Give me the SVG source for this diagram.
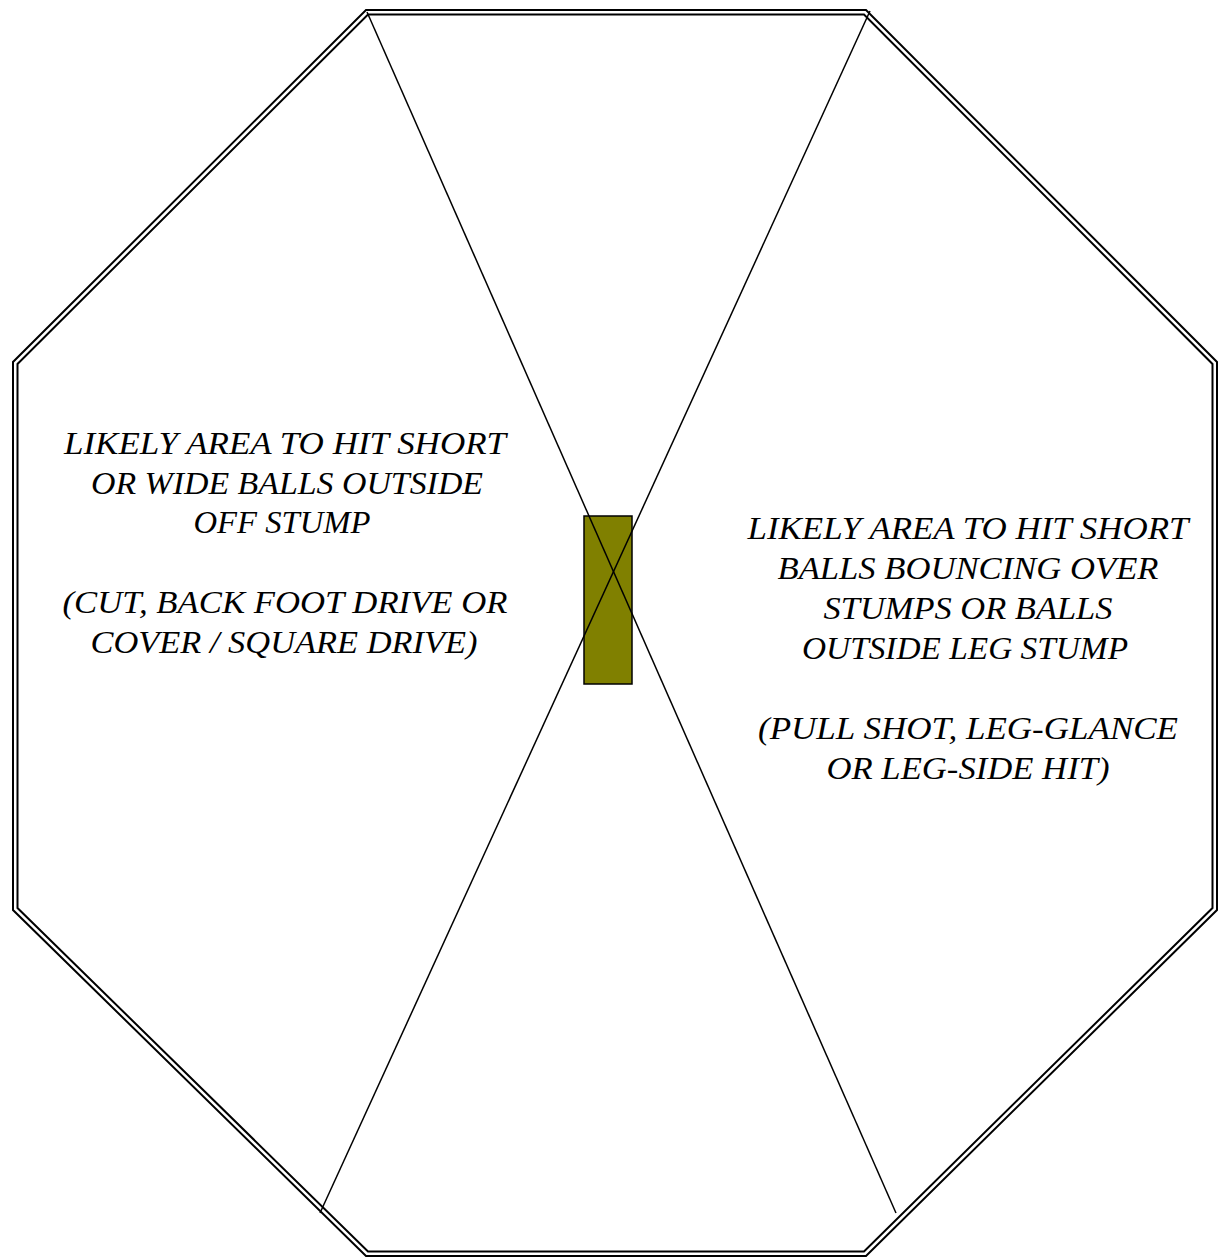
<svg xmlns="http://www.w3.org/2000/svg" width="1219" height="1258" viewBox="0 0 1219 1258">
<style>
.oct{fill:none;stroke:#000;stroke-width:2}
.ln{stroke:#000;stroke-width:1.5;fill:none}
.t{font-family:"Liberation Serif","Times New Roman",serif;font-style:italic;font-size:32px;fill:#000;text-anchor:middle}
</style>
<rect width="1219" height="1258" fill="#fff"/>
<g id="field">
<polygon class="oct" points="366,10 866,10 1217,362 1217,910 866,1256 366,1256 13,910 13,362"/>
<polygon class="oct" points="368,14.5 864,14.5 1212.5,364 1212.5,908 864,1251.5 368,1251.5 17.5,908 17.5,364"/>
</g>
<g id="pitch">
<rect x="584" y="516" width="48" height="168" fill="#808000" stroke="#000" stroke-width="1.5"/>
</g>
<g id="connectors">
<line class="ln" x1="367" y1="12" x2="896" y2="1213"/>
<line class="ln" x1="870" y1="11" x2="320" y2="1213"/>
</g>
<g id="offside-label">
<text class="t" x="285" y="454" textLength="442" lengthAdjust="spacingAndGlyphs">LIKELY AREA TO HIT SHORT</text>
<text class="t" x="287" y="494" textLength="392" lengthAdjust="spacingAndGlyphs">OR WIDE BALLS OUTSIDE</text>
<text class="t" x="282" y="533" textLength="177" lengthAdjust="spacingAndGlyphs">OFF STUMP</text>
<text class="t" x="285" y="613" textLength="445" lengthAdjust="spacingAndGlyphs">(CUT, BACK FOOT DRIVE OR</text>
<text class="t" x="284" y="653" textLength="387" lengthAdjust="spacingAndGlyphs">COVER / SQUARE DRIVE)</text>
</g>
<g id="legside-label">
<text class="t" x="968" y="539" textLength="441" lengthAdjust="spacingAndGlyphs">LIKELY AREA TO HIT SHORT</text>
<text class="t" x="968" y="579" textLength="381" lengthAdjust="spacingAndGlyphs">BALLS BOUNCING OVER</text>
<text class="t" x="968" y="619" textLength="289" lengthAdjust="spacingAndGlyphs">STUMPS OR BALLS</text>
<text class="t" x="965" y="659" textLength="326" lengthAdjust="spacingAndGlyphs">OUTSIDE LEG STUMP</text>
<text class="t" x="968" y="739" textLength="420" lengthAdjust="spacingAndGlyphs">(PULL SHOT, LEG-GLANCE</text>
<text class="t" x="968" y="779" textLength="283" lengthAdjust="spacingAndGlyphs">OR LEG-SIDE HIT)</text>
</g>
</svg>
